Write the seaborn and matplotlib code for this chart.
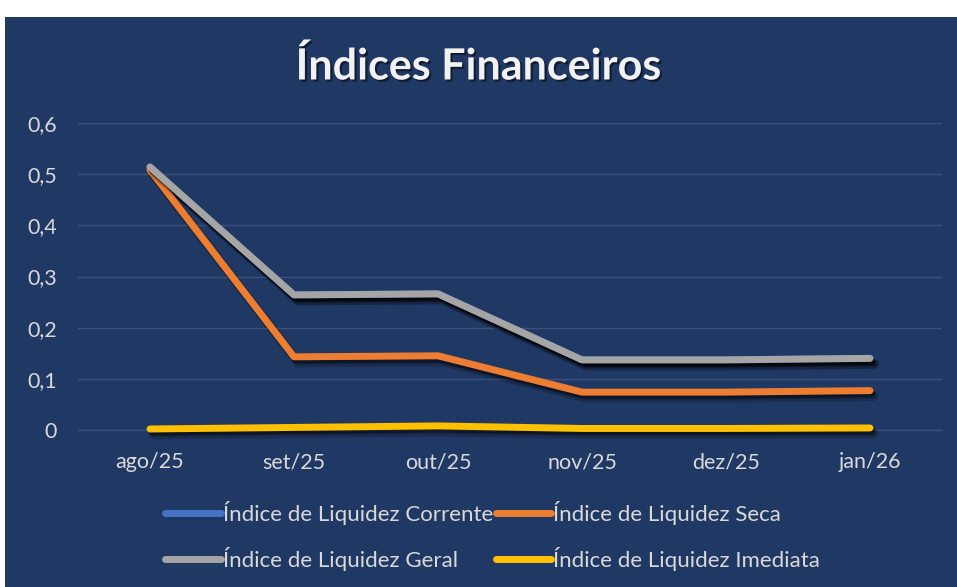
import numpy as np
import pandas as pd
import seaborn as sns
import matplotlib.pyplot as plt
import matplotlib.patheffects as pe
from matplotlib.patches import Rectangle

# ===============================
# DATA
# ===============================
months = ["ago/25", "set/25", "out/25", "nov/25", "dez/25", "jan/26"]
corrente = [0.514, 0.264, 0.266, 0.137, 0.137, 0.140]
seca     = [0.508, 0.143, 0.145, 0.074, 0.074, 0.077]
geral    = [0.514, 0.264, 0.266, 0.137, 0.137, 0.140]
imediata = [0.002, 0.005, 0.008, 0.003, 0.003, 0.004]

series = {
    "Índice de Liquidez Corrente": (corrente, "#4472C4"),
    "Índice de Liquidez Seca": (seca, "#ED7D31"),
    "Índice de Liquidez Geral": (geral, "#A5A5A5"),
    "Índice de Liquidez Imediata": (imediata, "#FFC000"),
}

# ===============================
# STYLE
# ===============================
NAVY = "#203864"
TXT = "#D9D9D9"
GRID = "#3A5179"
LW = 5

sns.set_theme(style="white")
plt.rcParams["font.family"] = ["Lato", "DejaVu Sans"]

fig = plt.figure(figsize=(9.57, 5.87), dpi=100)
fig.patch.set_facecolor("white")
fig.patches.append(Rectangle((5 / 957, 0), 1, (587 - 17) / 587,
                             transform=fig.transFigure, facecolor=NAVY,
                             edgecolor="none", zorder=-10))

ax = fig.add_axes([78 / 957, (587 - 430) / 587, 864 / 957, 307 / 587])
ax.set_facecolor("none")
ax.set_zorder(2)

x = np.arange(len(months))
lines = {}
for name, (vals, color) in series.items():
    sns.lineplot(x=x, y=vals, ax=ax, color=color, linewidth=LW,
                 legend=False, sort=False,
                 solid_capstyle="round", solid_joinstyle="round",
                 clip_on=False, zorder=3)
    lines[name] = ax.lines[-1]

# soft-ish drop shadow: a few stacked faint offsets
shadow = [pe.SimpleLineShadow(offset=(3, -4), shadow_color="black", alpha=0.18,
                              linewidth=LW + 2),
          pe.SimpleLineShadow(offset=(2, -3), shadow_color="black", alpha=0.3),
          pe.SimpleLineShadow(offset=(1, -2), shadow_color="black", alpha=0.3),
          pe.Normal()]
for ln in lines.values():
    ln.set_path_effects(shadow)

ax.set_xlim(-0.5, len(months) - 0.5)
ax.set_ylim(0, 0.6)
ax.set_yticks(np.arange(0, 0.61, 0.1))
ax.set_yticklabels(["0", "0,1", "0,2", "0,3", "0,4", "0,5", "0,6"])
ax.set_xticks(x)
ax.set_xticklabels(months)
ax.set_xticks(np.arange(-0.5, len(months), 1), minor=True)
ax.tick_params(axis="both", which="major", length=0, colors=TXT, labelsize=15.5)
ax.tick_params(axis="x", which="major", pad=16)
ax.tick_params(axis="y", which="major", pad=15)
ax.tick_params(axis="x", which="minor", length=5, color=GRID, width=1)
ax.grid(axis="y", color=GRID, linewidth=1)
for s in ["top", "right", "left"]:
    ax.spines[s].set_visible(False)
ax.spines["bottom"].set_color(GRID)
ax.spines["bottom"].set_linewidth(1)

fig.text(0.5, 1 - 66 / 587, "Índices Financeiros", ha="center", va="center",
         fontsize=31, fontweight="bold", color="#F2F2F2",
         path_effects=[pe.withSimplePatchShadow(offset=(1.5, -1.5), alpha=0.5,
                                                shadow_rgbFace="black")])

# legend filled column by column -> order so rows read Corrente/Seca, Geral/Imediata
order = ["Índice de Liquidez Corrente", "Índice de Liquidez Geral",
         "Índice de Liquidez Seca", "Índice de Liquidez Imediata"]
leg_lines = [plt.Line2D([], [], color=lines[k].get_color(), linewidth=LW,
                        solid_capstyle="round") for k in order]
fig.legend(leg_lines, order, ncol=2, frameon=False,
           loc="center", bbox_to_anchor=(0.515, 1 - 536 / 587),
           fontsize=16, labelcolor=TXT, handlelength=2.5,
           handletextpad=0.1, columnspacing=0.1, labelspacing=1.0)

fig.savefig("out.png", dpi=100, facecolor=fig.get_facecolor())
